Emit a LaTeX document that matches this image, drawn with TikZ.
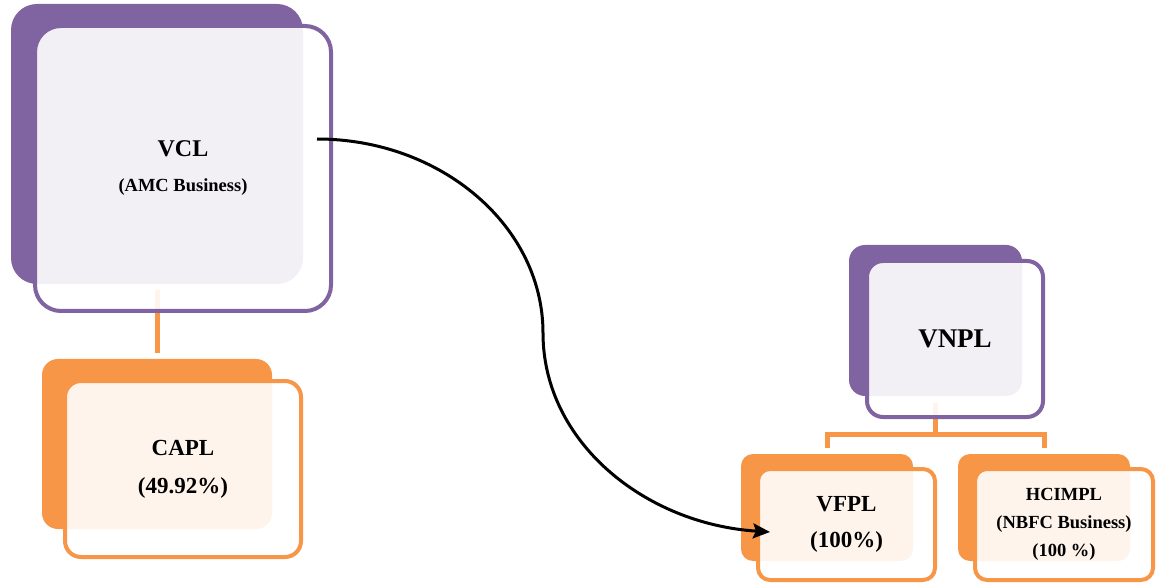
\documentclass[tikz,border=0pt]{standalone}
\usepackage{fontspec}
\setmainfont{Liberation Serif}
\usetikzlibrary{arrows.meta}
\definecolor{vpurple}{HTML}{8064A2}
\definecolor{vorange}{HTML}{F79646}
\begin{document}
\begin{tikzpicture}[x=1pt,y=-1pt,
  back/.style={rectangle, inner sep=0pt, outer sep=0pt, fill=#1, draw=none},
  front/.style={rectangle, inner sep=0pt, outer sep=0pt, draw=#1, line width=4pt,
    fill=white, fill opacity=0.9, text opacity=1, align=center, text=black},
  conn/.style={draw=vorange, line width=5pt},
  flow/.style={draw=black, line width=3pt, -{Stealth[length=17pt,width=15pt,inset=3pt]}}]
\useasboundingbox (0,0) rectangle (1157,585);

% back shapes
\node[back=vpurple, rounded corners=26pt, minimum width=292pt, minimum height=280pt] (vclback) at (157,144) {};
\node[back=vorange, rounded corners=16pt, minimum width=230pt, minimum height=170pt] (caplback) at (157,444) {};
\node[back=vpurple, rounded corners=16pt, minimum width=173pt, minimum height=151pt] (vnplback) at (935.5,320.5) {};
\node[back=vorange, rounded corners=12pt, minimum width=172pt, minimum height=107pt] (vfplback) at (827,507.5) {};
\node[back=vorange, rounded corners=12pt, minimum width=172pt, minimum height=107pt] (hcimplback) at (1044,507.5) {};

% connectors
\draw[conn] ([yshift=-6pt]vclback.south) -- ([yshift=6pt]caplback.north);
\draw[conn] ([yshift=-7pt]vnplback.south) -- ++(0,31) coordinate (vnplhub) -| ([yshift=6pt]vfplback.north);
\draw[conn] (vnplhub) -| ([yshift=6pt]hcimplback.north);

% front shapes
\node[front=vpurple, rounded corners=26pt, minimum width=296pt, minimum height=285pt,
  font={\bfseries\fontsize{18.5}{35}\selectfont}] (vcl) at (183,168.5)
  {{\fontsize{24}{35}\selectfont VCL}\\(AMC Business)};
\node[front=vorange, rounded corners=16pt, minimum width=236pt, minimum height=176pt,
  font={\bfseries\fontsize{23}{38}\selectfont}] (capl) at (183,469)
  {CAPL\\(49.92\%)};
\node[front=vpurple, rounded corners=16pt, minimum width=176pt, minimum height=156pt,
  font={\bfseries\fontsize{27}{32}\selectfont}] (vnpl) at (955,339)
  {VNPL};
\node[front=vorange, rounded corners=12pt, minimum width=177pt, minimum height=111pt,
  font={\bfseries\fontsize{23}{36}\selectfont}] (vfpl) at (846.5,524.5)
  {VFPL\\(100\%)};
\node[front=vorange, rounded corners=12pt, minimum width=178pt, minimum height=111pt,
  font={\bfseries\fontsize{18.5}{28}\selectfont}] (hcimpl) at (1064,524.5)
  {HCIMPL\\(NBFC Business)\\(100 \%)};

% arrow
\coordinate (arrowstart) at (317,139);
\coordinate (arrowend) at (770,532);
\draw[flow] (arrowstart) .. controls (441,139) and (543,226) .. (543,333)
  .. controls (543,442) and (645,524) .. (arrowend);
\end{tikzpicture}
\end{document}
